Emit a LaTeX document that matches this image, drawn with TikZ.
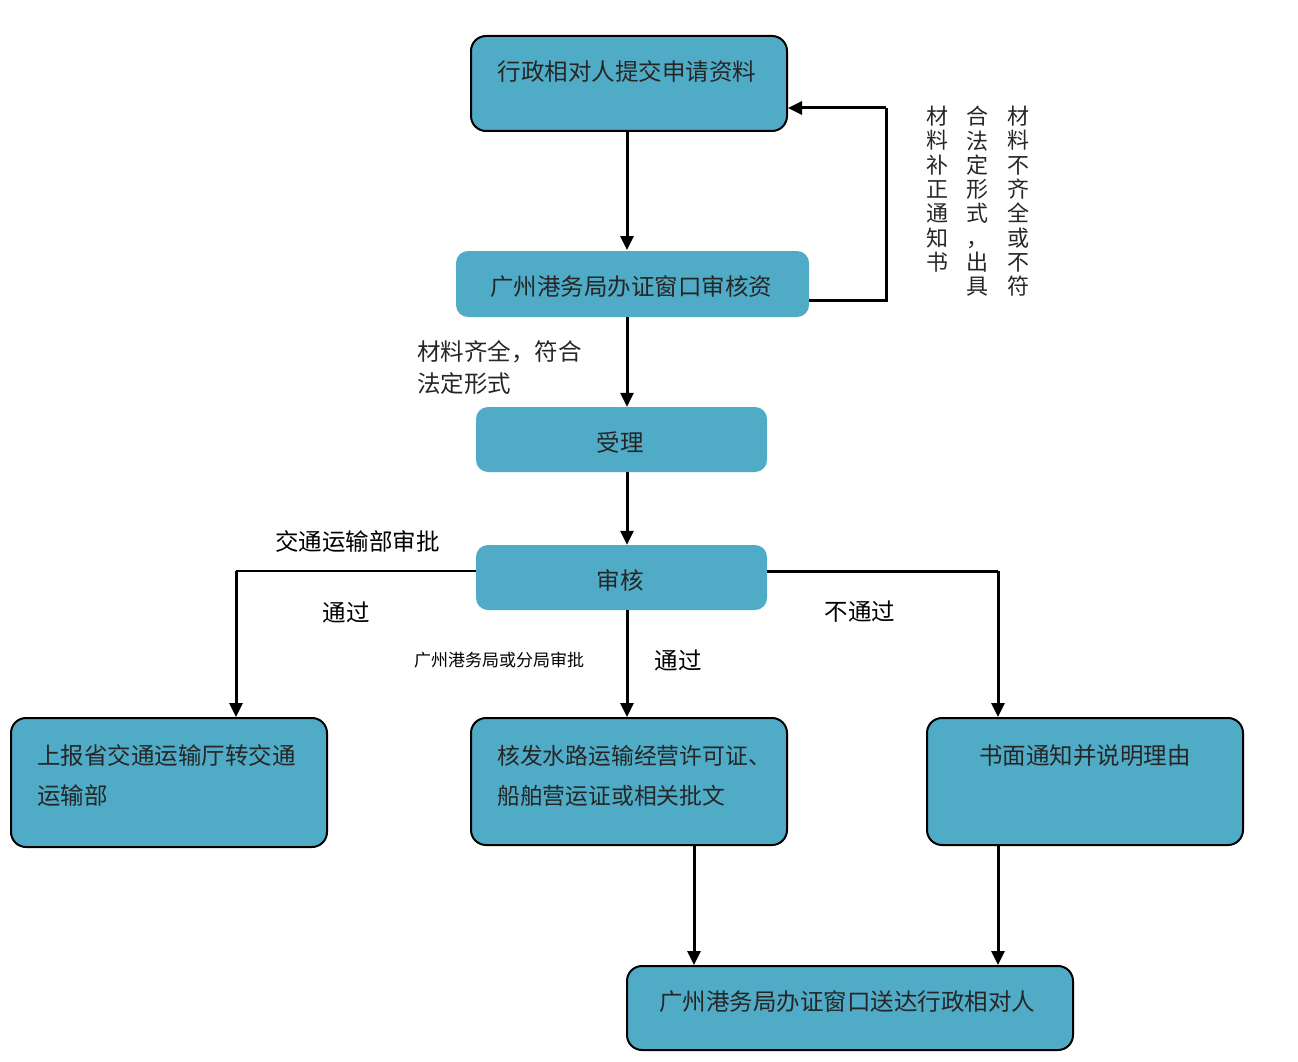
\documentclass[tikz,border=0pt]{standalone}
\usepackage{fontspec}
\setmainfont{Noto Sans CJK SC}
\usetikzlibrary{arrows.meta}
\definecolor{boxc}{HTML}{50ABC6}
\tikzset{
  boxb/.style={draw=black, line width=2pt, fill=boxc, rounded corners=15pt, inner sep=0pt},
  boxn/.style={fill=boxc, rounded corners=12pt, inner sep=0pt},
  txt/.style={font=\fontsize{23.5}{26}\selectfont, inner sep=0pt, text=black!85},
  small/.style={font=\fontsize{17}{20}\selectfont, inner sep=0pt},
  vtxt/.style={font=\fontsize{22}{24.3}\selectfont, inner sep=0pt, align=center, anchor=north, text=black!85},
  conn/.style={line width=3pt, -{Triangle[length=14pt,width=13pt]}},
  connp/.style={line width=3pt},
}
\begin{document}
\begin{tikzpicture}[x=1pt,y=-1pt]
\useasboundingbox (0,0) rectangle (1298,1062);
% boxes
\node[boxb, minimum width=316pt, minimum height=95pt] (b1) at (629,83.5) {};
\node[txt] (t1) at (627,72) {行政相对人提交申请资料};
\node[boxn, minimum width=353pt, minimum height=66pt] (b2) at (632.5,284) {};
\node[txt] (t2) at (631,287) {广州港务局办证窗口审核资};
\node[boxn, minimum width=291pt, minimum height=65pt] (b3) at (621.5,439.5) {};
\node[txt] (t3) at (620,442) {受理};
\node[boxn, minimum width=291pt, minimum height=65pt] (b4) at (621.5,577.5) {};
\node[txt] (t4) at (620,580) {审核};
\node[boxb, minimum width=316pt, minimum height=129pt] (b5) at (169,782.5) {};
\node[txt, anchor=west] (t5a) at (37,756) {上报省交通运输厅转交通};
\node[txt, anchor=west] (t5b) at (37,796) {运输部};
\node[boxb, minimum width=316pt, minimum height=127pt] (b6) at (629,781.5) {};
\node[txt, anchor=west, font=\fontsize{22.8}{26}\selectfont] (t6a) at (497,756) {核发水路运输经营许可证、};
\node[txt, anchor=west, font=\fontsize{22.8}{26}\selectfont] (t6b) at (497,796) {船舶营运证或相关批文};
\node[boxb, minimum width=316pt, minimum height=127pt] (b7) at (1085,781.5) {};
\node[txt] (t7) at (1085,756) {书面通知并说明理由};
\node[boxb, minimum width=446pt, minimum height=84pt] (b8) at (850,1008) {};
\node[txt] (t8) at (847,1002) {广州港务局办证窗口送达行政相对人};
% connector anchors
\coordinate (c1) at (886,300);
\coordinate (c2) at (886,108);
\coordinate (c3) at (236,571);
\coordinate (c4) at (998,571);
% connectors
\draw[conn] (b1.south -| 627,0) -- (627,250);
\draw[connp] (b2.east |- c1) -- (c1) -- (c2);
\draw[conn] (c2) -- (b1.east |- c2);
\draw[conn] (627,317) -- (b3.north -| 627,0);
\draw[conn] (627,472) -- (b4.north -| 627,0);
\draw[line width=2pt] (b4.west |- 0,571) -- (c3);
\draw[conn] (c3) -- (c3 |- b5.north);
\draw[connp] (b4.east |- 0,571) -- (c4);
\draw[conn] (c4) -- (c4 |- b7.north);
\draw[conn] (627,610) -- (b6.north -| 627,0);
\draw[conn] (694,845) -- (b8.north -| 694,0);
\draw[conn] (998,845) -- (b8.north -| 998,0);
% labels
\node[txt, anchor=west] (l1) at (417,352) {材料齐全，符合};
\node[txt, anchor=west] (l2) at (417,384) {法定形式};
\node[txt, anchor=west, text=black] (l3) at (275,542) {交通运输部审批};
\node[txt, text=black] (l4) at (346,612) {通过};
\node[small, anchor=west] (l5) at (414,660) {广州港务局或分局审批};
\node[txt, text=black] (l6) at (678,660) {通过};
\node[txt, text=black] (l7) at (860,612) {不通过};
\node[vtxt] (v1) at (1018,106) {材\\料\\不\\齐\\全\\或\\不\\符};
\node[vtxt] (v2) at (977,106) {合\\法\\定\\形\\式\\，\\出\\具};
\node[vtxt] (v3) at (937,106) {材\\料\\补\\正\\通\\知\\书};
\end{tikzpicture}
\end{document}
